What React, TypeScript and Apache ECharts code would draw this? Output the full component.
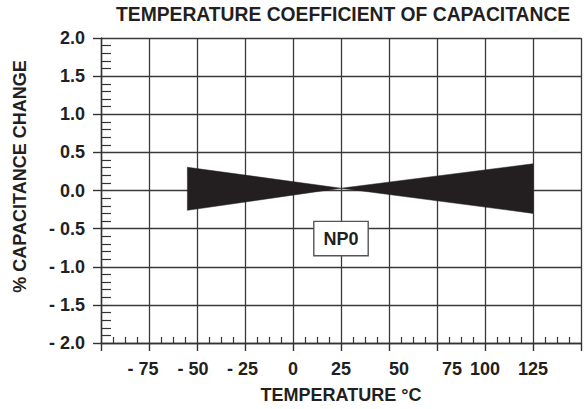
import React, { useEffect, useRef } from 'react';
import * as echarts from 'echarts';

const TITLE = 'TEMPERATURE COEFFICIENT OF CAPACITANCE';
const X_NAME = 'TEMPERATURE °C';
const Y_NAME = '% CAPACITANCE CHANGE';

const X_MIN = -100;
const X_MAX = 150;
const X_STEP = 25;
const Y_MIN = -2;
const Y_MAX = 2;
const Y_STEP = 0.5;

const xTicks = [-75, -50, -25, 0, 25, 50, 75, 100, 125];
const xTickLabels = ['- 75', '- 50', '- 25', '0', '25', '50', '75', '100', '125'];
const yTicks = [-2, -1.5, -1, -0.5, 0, 0.5, 1, 1.5, 2];
const yTickLabels = ['- 2.0', '- 1.5', '- 1.0', '- 0.5', '0.0', '0.5', '1.0', '1.5', '2.0'];

// wedge triangles: [x1, y1, x2, y2, x3, y3] (temperature °C, % change)
const leftWedge = [-55, 0.305, -55, -0.26, 25, 0.03];
const rightWedge = [125, 0.35, 125, -0.3, 25, 0.03];

const badgeLabel = 'NP0';
const badgePoint = [25, -0.63];

const INK = '#231f20';
const FONT = '"Liberation Sans", Arial, Helvetica, sans-serif';

export default function App() {
  const ref = useRef<HTMLDivElement>(null);

  useEffect(() => {
    if (!ref.current) return;
    const chart = echarts.init(ref.current, undefined, { renderer: 'svg' });

    const baseText = { fontSize: 18, fontWeight: 'bold', color: INK, fontFamily: FONT };
    const xRich: Record<string, any> = {
      a: { ...baseText, padding: [0, 12, 0, 0] },
      b: { ...baseText, padding: [0, 8, 0, 0] },
      c: { ...baseText, padding: [0, 5, 0, 0] },
      d: { ...baseText, padding: [0, 0, 0, 20] },
      e: { ...baseText, padding: [0, 0, 0, 30] },
      n: { ...baseText },
    };
    const xStyleKey: Record<string, string> = { '-75': 'a', '-50': 'b', '-25': 'c', '50': 'd', '75': 'e' };

    chart.setOption({
      animation: false,
      title: {
        text: TITLE,
        left: 116,
        top: 5,
        padding: 0,
        textStyle: { ...baseText, fontSize: 19.3 },
      },
      grid: { left: 101, right: 0, top: 38, bottom: 64, containLabel: false },
      xAxis: {
        type: 'value',
        min: X_MIN,
        max: X_MAX,
        interval: X_STEP,
        name: X_NAME,
        nameLocation: 'middle',
        nameGap: 43,
        nameTextStyle: { ...baseText },
        axisLine: { show: true, onZero: false, lineStyle: { color: '#333', width: 1.4 } },
        axisTick: { show: true, length: 8, lineStyle: { color: '#333', width: 1.4 } },
        minorTick: { show: true, splitNumber: 4, length: -6, lineStyle: { color: '#333', width: 1.2 } },
        splitLine: { show: true, lineStyle: { color: '#3a3a3a', width: 1.3 } },
        axisLabel: {
          margin: 17,
          ...baseText,
          rich: xRich,
          formatter: (v: number) => {
            const i = xTicks.indexOf(v);
            if (i < 0) return '';
            const key = xStyleKey[String(v)] || 'n';
            return `{${key}|${xTickLabels[i]}}`;
          },
        },
      },
      yAxis: {
        type: 'value',
        min: Y_MIN,
        max: Y_MAX,
        interval: Y_STEP,
        name: Y_NAME,
        nameLocation: 'middle',
        nameGap: 72,
        nameTextStyle: { ...baseText, padding: [0, 0, 0, 28] },
        axisLine: { show: true, onZero: false, lineStyle: { color: '#333', width: 1.4 } },
        axisTick: { show: true, length: 8, lineStyle: { color: '#333', width: 1.4 } },
        minorTick: { show: true, splitNumber: 5, length: -10, lineStyle: { color: '#333', width: 1.2 } },
        splitLine: { show: true, lineStyle: { color: '#3a3a3a', width: 1.3 } },
        axisLabel: {
          margin: 16,
          ...baseText,
          formatter: (v: number) => {
            const i = yTicks.findIndex((t) => Math.abs(t - v) < 1e-9);
            return i < 0 ? '' : yTickLabels[i];
          },
        },
      },
      series: [
        {
          type: 'custom',
          data: [leftWedge, rightWedge],
          encode: { x: [0, 2, 4], y: [1, 3, 5] },
          renderItem: (_params: any, api: any) => {
            const pts = [0, 1, 2].map((k) => api.coord([api.value(k * 2), api.value(k * 2 + 1)]));
            return { type: 'polygon', shape: { points: pts }, style: { fill: INK, stroke: INK, lineWidth: 0.5 } };
          },
          z: 3,
        },
        {
          type: 'scatter',
          data: [badgePoint],
          symbolSize: 0,
          itemStyle: { color: INK, opacity: 1 },
          z: 5,
          label: {
            show: true,
            position: 'inside',
            formatter: badgeLabel,
            ...baseText,
            opacity: 1,
            textBorderWidth: 0,
            lineHeight: 18,
            backgroundColor: '#ffffff',
            borderColor: '#555',
            borderWidth: 1.4,
            padding: [8, 9, 7, 9],
          },
        },
      ],
    });

    return () => chart.dispose();
  }, []);

  return (
    <div
      ref={ref}
      style={{ position: 'absolute', left: 0, top: 0, width: 584, height: 409 }}
    />
  );
}
